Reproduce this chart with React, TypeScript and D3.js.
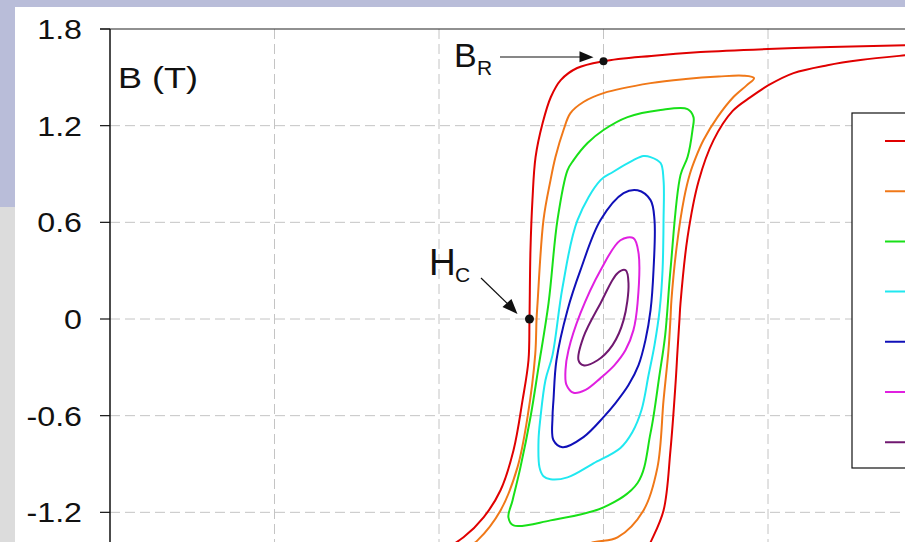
import React from "react";
import * as d3 from "d3";

// Hysteresis loops, [H, B] pairs traced around each loop (H in A/m, B in tesla)
const redLoop: [number, number][] = [
  [290, 1.76], [241, 1.725], [184, 1.7], [138, 1.688], [100, 1.676], [59, 1.657], [29, 1.633],
  [0, 1.6], [-16, 1.558], [-26, 1.483], [-32, 1.378], [-37, 1.216], [-41.3, 1.005], [-43.2, 0.738],
  [-44.4, 0.427], [-45, 0], [-45.6, -0.256], [-49.2, -0.504], [-54.7, -0.815], [-62.6, -1.063],
  [-72.9, -1.231], [-85.1, -1.355], [-100.3, -1.451], [-115.5, -1.526], [-136.2, -1.575],
  [-156.2, -1.607], [-183.6, -1.637], [-241.3, -1.69], [-290, -1.76], [-241, -1.725], [-184, -1.7],
  [-138, -1.688], [-100, -1.676], [-59, -1.657], [-29, -1.633], [0, -1.594], [16, -1.558],
  [24, -1.483], [28.6, -1.386], [36.5, -1.188], [40.7, -0.815], [43.8, -0.399], [45, -0.194],
  [46.2, 0], [46.8, 0.098], [51.1, 0.508], [57.8, 0.855], [66.9, 1.11], [78.4, 1.29],
  [89.4, 1.377], [100.3, 1.451], [115.5, 1.526], [136.2, 1.575], [156.2, 1.607], [183.6, 1.637],
  [241.3, 1.69],
];

const orangeLoop: [number, number][] = [
  [91.5, 1.495], [85, 1.51], [70, 1.505], [50, 1.49], [28.6, 1.464], [0, 1.402], [-12.2, 1.347],
  [-20.1, 1.278], [-24.3, 1.173], [-29.2, 1.005], [-32.2, 0.862], [-36.5, 0.614], [-40.1, 0.098],
  [-40.7, 0], [-41.5, -0.22], [-46.2, -0.61], [-52.3, -0.921], [-62.6, -1.188], [-76.6, -1.374],
  [-87, -1.45], [-91.5, -1.495], [-85, -1.51], [-70, -1.505], [-50, -1.49], [-28.6, -1.464],
  [-6.1, -1.386], [8.5, -1.355], [24.3, -1.188], [32.8, -0.921], [36.5, -0.504], [39.5, -0.194],
  [40.7, 0], [41.3, 0.117], [44.5, 0.45], [49, 0.75], [52.5, 0.9], [56, 1.0], [60.8, 1.111],
  [69.3, 1.253], [79, 1.378], [87, 1.45],
];

const greenLoop: [number, number][] = [
  [51.1, 1.303], [54.7, 1.253], [54.1, 1.173], [51.1, 1.005], [46.8, 0.893], [40.7, 0.303],
  [37.5, -0.1], [34, -0.35], [28.6, -0.707], [20.7, -1.018], [0, -1.169], [-32.2, -1.25],
  [-54.7, -1.281], [-57.8, -1.231], [-55.3, -1.126], [-50.5, -0.921], [-44.4, -0.61],
  [-39.5, -0.299], [-33.4, 0.098], [-28, 0.614], [-21.9, 0.923], [-18.2, 0.986], [-9.7, 1.092],
  [0, 1.173], [14.6, 1.253], [34.7, 1.297],
];

const cyanLoop: [number, number][] = [
  [28.6, 1.005], [34.7, 0.968], [36.5, 0.862], [36.5, 0.614], [35.9, 0.303], [34.1, 0.055],
  [31.0, -0.162], [27.4, -0.348], [23.1, -0.565], [17.6, -0.701], [10.3, -0.8], [-6.1, -0.896],
  [-21.9, -0.983], [-32.2, -0.995], [-36.5, -0.976], [-38.9, -0.921], [-39.5, -0.753],
  [-38.3, -0.61], [-35.3, -0.38], [-31, -0.224], [-24.9, 0.197], [-15.8, 0.614], [-1.8, 0.862],
  [5.5, 0.911], [18.2, 0.986], [24.3, 1.011],
];

const blueLoop: [number, number][] = [
  [20.7, 0.799], [28.6, 0.738], [31, 0.614], [30.4, 0.303], [28.6, 0.055], [25.5, -0.131],
  [21.3, -0.286], [15.2, -0.41], [7.3, -0.522], [0, -0.609], [-12.2, -0.733], [-24.9, -0.796],
  [-30.4, -0.753], [-31, -0.61], [-30.4, -0.502], [-28.6, -0.256], [-21.9, 0.055], [-14, 0.303],
  [-1.8, 0.614], [12.2, 0.781],
];

const magentaLoop: [number, number][] = [
  [18.2, 0.502], [21.3, 0.409], [20.7, 0.098], [18.2, -0.069], [13.4, -0.193], [6.7, -0.286],
  [-1.8, -0.367], [-10.9, -0.44], [-18.2, -0.458], [-22.5, -0.409], [-23.1, -0.316],
  [-21.3, -0.194], [-14, 0.036], [-1.8, 0.303], [10.3, 0.489],
];

const purpleLoop: [number, number][] = [
  [13.4, 0.303], [15.2, 0.222], [12.2, -0.007], [5.5, -0.162], [-3.6, -0.256], [-12.2, -0.287],
  [-15.2, -0.256], [-12.2, -0.113], [-1.8, 0.098], [8.5, 0.284],
];

const loops = [redLoop, orangeLoop, greenLoop, cyanLoop, blueLoop, magentaLoop, purpleLoop];
const loopColors = ["#e00000", "#f07818", "#18e018", "#20e8f0", "#1010b8", "#e020e0", "#701870"];

const hTicks = [-200, -100, 0, 100, 200];
const bTicks = [1.8, 1.2, 0.6, 0, -0.6, -1.2];
const bTickLabels = ["1.8", "1.2", "0.6", "0", "-0.6", "-1.2"];

// Remanence and coercivity markers on the outer loop
const remanence: [number, number] = [0, 1.6];
const coercivity: [number, number] = [-45, 0];

const W = 905;
const H = 542;
const FONT = "'Liberation Sans', Arial, sans-serif";

export default function App() {
  const x = d3.scaleLinear().domain([-300, 300]).range([110, 1097]);
  const y = d3.scaleLinear().domain([-1.8, 1.8]).range([609, 29]);
  const line = d3
    .line<[number, number]>()
    .x((d) => x(d[0]))
    .y((d) => y(d[1]))
    .curve(d3.curveCatmullRomClosed.alpha(0.5));

  const left = x(-300);
  const top = y(1.8);

  const br = [x(remanence[0]), y(remanence[1])];
  const hc = [x(coercivity[0]), y(coercivity[1])];

  const legendY = d3.range(loops.length).map((i) => 141 + i * 50.2);

  return (
    <svg
      width={W}
      height={H}
      style={{ position: "absolute", left: 0, top: 0, display: "block" }}
      fontFamily={FONT}
    >
      <rect x={0} y={0} width={W} height={H} fill="#ffffff" />
      <rect x={0} y={0} width={W} height={7} fill="#b9bdd9" />
      <rect x={0} y={0} width={15} height={207} fill="#b9bdd9" />
      <rect x={0} y={207} width={15} height={H - 207} fill="#dcdcdc" />

      {/* grid */}
      <g stroke="#c4c4c4" strokeWidth={1} strokeDasharray="10,5">
        {hTicks.map((t) => (
          <line key={"v" + t} x1={x(t)} x2={x(t)} y1={top} y2={H} />
        ))}
        {bTicks
          .filter((t) => t < 1.8)
          .map((t) => (
            <line key={"h" + t} x1={left} x2={W} y1={y(t)} y2={y(t)} />
          ))}
      </g>

      {/* loops */}
      <g fill="none" strokeWidth={2} strokeLinejoin="round">
        {loops.map((l, i) => (
          <path key={i} d={line(l) || ""} stroke={loopColors[i]} />
        ))}
      </g>

      {/* frame and axis */}
      <line x1={left - 10} x2={W} y1={top} y2={top} stroke="#222" strokeWidth={1.2} />
      <line x1={left} x2={left} y1={top} y2={H} stroke="#111" strokeWidth={1.5} />
      {bTicks.map((t) => (
        <line key={"t" + t} x1={left - 10} x2={left} y1={y(t)} y2={y(t)} stroke="#111" strokeWidth={1.2} />
      ))}
      {bTicks.map((t, i) => (
        <text
          key={"l" + t}
          transform={`translate(82,${y(t)}) scale(1.15,1)`}
          dy="0.36em"
          textAnchor="end"
          fontSize={28}
          fill="#111"
        >
          {bTickLabels[i]}
        </text>
      ))}
      <text transform="translate(118,88) scale(1.2,1)" fontSize={30} fill="#111">
        B (T)
      </text>

      {/* legend */}
      <rect x={852} y={113} width={140} height={355} fill="#ffffff" stroke="#111" strokeWidth={1.2} />
      {legendY.map((ly, i) => (
        <line key={"lg" + i} x1={885} x2={925} y1={ly} y2={ly} stroke={loopColors[i]} strokeWidth={2} />
      ))}

      {/* B_R annotation */}
      <text x={454} y={67} fontSize={34} fill="#111">
        B
      </text>
      <text x={477} y={75} fontSize={21} fill="#111">
        R
      </text>
      <line x1={500} x2={582} y1={57} y2={57} stroke="#111" strokeWidth={1.2} />
      <polygon points={`${br[0] - 10},${br[1] - 4} ${br[0] - 24},${br[1] - 10} ${br[0] - 24},${br[1] + 1}`} fill="#111" />
      <circle cx={br[0]} cy={br[1]} r={4} fill="#111" />

      {/* H_C annotation */}
      <text x={429} y={275} fontSize={37} fill="#111">
        H
      </text>
      <text x={455} y={282} fontSize={21} fill="#111">
        C
      </text>
      <line x1={481} x2={510} y1={278} y2={306} stroke="#111" strokeWidth={1.2} />
      <polygon
        points={`${hc[0] - 12},${hc[1] - 5} ${hc[0] - 27},${hc[1] - 12} ${hc[0] - 18},${hc[1] - 20}`}
        fill="#111"
      />
      <circle cx={hc[0]} cy={hc[1]} r={4.5} fill="#111" />
    </svg>
  );
}
